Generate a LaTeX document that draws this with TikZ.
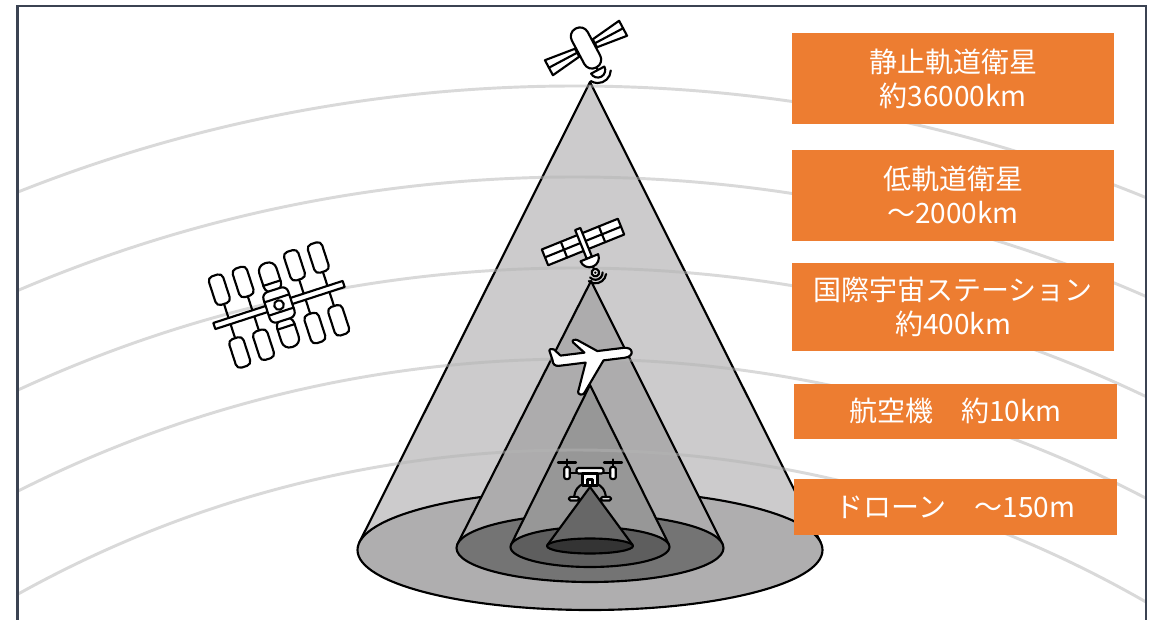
\documentclass[tikz,border=0pt]{standalone}
\usepackage{fontspec}
\newfontfamily\jpfont{Noto Sans CJK JP}
\definecolor{orbitc}{HTML}{B4B4B4}
\definecolor{framec}{HTML}{3B4352}
\definecolor{labc}{HTML}{ED7D31}
\definecolor{coneA}{HTML}{CCCBCC}
\definecolor{ellA}{HTML}{AFAEAF}
\definecolor{coneB}{HTML}{ADACAD}
\definecolor{ellB}{HTML}{747474}
\definecolor{coneC}{HTML}{979797}
\definecolor{ellC}{HTML}{5E5E5E}
\definecolor{coneD}{HTML}{676767}
\definecolor{ellD}{HTML}{343434}
\begin{document}
\begin{tikzpicture}[x=0.75pt,y=-0.75pt,
  orbit/.style={draw=orbitc, line width=2.2pt, opacity=0.5},
  coneline/.style={draw=black, line width=1.6pt, line join=round},
  icon/.style={draw=black, fill=white, line width=1.6pt, line join=round, line cap=round},
  iconline/.style={draw=black, line width=1.6pt, line cap=round, line join=round},
  lbl/.style={fill=labc, text=white, font=\jpfont\fontsize{21}{25.5}\selectfont,
    align=center, inner sep=0pt, minimum width=241.5pt},
  framel/.style={draw=framec, line width=1.9pt}
]
\fill[white] (0,0) rectangle (1160,620);
\useasboundingbox (0,0) rectangle (1160,620);

% coverage cones, outermost first
\draw[coneline, fill=coneA] (590,82) -- (820.6,542.3) -- (359.4,542.3) -- cycle;
\draw[coneline, fill=ellA] (590,550) ellipse [x radius=232.5, y radius=60];
\draw[coneline, fill=coneB] (591,281) -- (722.4,543.7) -- (457.6,543.7) -- cycle;
\draw[coneline, fill=ellB] (590,548) ellipse [x radius=133.5, y radius=34];
\draw[coneline, fill=coneC] (590,385) -- (668.9,544.5) -- (511.1,544.5) -- cycle;
\draw[coneline, fill=ellC] (590,547) ellipse [x radius=79.5, y radius=20];
\draw[coneline, fill=coneD] (590,487) -- (632.6,545) -- (547.4,545) -- cycle;
\draw[coneline, fill=ellD] (590,546) ellipse [x radius=43, y radius=7.5];

% orbit rings
\begin{scope}
  \clip (17.5,6) rectangle (1146,620);
  \foreach \k in {0,...,4}
    \draw[orbit] (575,1597) circle [radius={1511-91*\k}];
\end{scope}

% geostationary satellite
\begin{scope}[shift={(586,48)}, rotate=28]
  \draw[icon] (-10,-4.5) -- (-42,-8.5) -- (-42,8.5) -- (-10,4.5) -- cycle;
  \draw[iconline] (-10,0) -- (-42,0);
  \draw[icon] (10,-4.5) -- (42,-8.5) -- (42,8.5) -- (10,4.5) -- cycle;
  \draw[iconline] (10,0) -- (42,0);
  \draw[icon, rounded corners=6.5pt] (-9,-22) rectangle (9,22);
  \draw[iconline] (0,22) -- (0,25);
  \draw[icon] (-7.5,25) -- (7.5,25) arc [start angle=0, end angle=180, radius=7.5] -- cycle;
  \draw[iconline] (11.3,31.5) arc [start angle=30, end angle=150, radius=13];
\end{scope}

% low orbit satellite
\begin{scope}[shift={(583,242)}, rotate=22]
  \draw[icon] (-41,-8.5) rectangle (41,8.5);
  \draw[iconline] (-41,0) -- (41,0) (-20.5,-8.5) -- (-20.5,8.5) (20.5,-8.5) -- (20.5,8.5);
  \draw[icon] (-2.8,-14) rectangle (2.8,17);
  \draw[icon] (-9.5,17) -- (9.5,17) arc [start angle=0, end angle=180, radius=9.5] -- cycle;
  \draw[iconline] (0,26.5) -- (0,29.5);
  \draw[icon] (0,33) circle [radius=3.7];
  \fill (0,33) circle [radius=1.4];
  \draw[iconline] (6.8,35.5) arc [start angle=20, end angle=160, radius=7.2];
  \draw[iconline] (9.4,38.4) arc [start angle=30, end angle=150, radius=10.8];
\end{scope}

% space station
\begin{scope}[shift={(279,305)}, rotate=18]
  \foreach \px in {-52,-27,27,52} {
    \draw[iconline] (\px,-3) -- (\px,-18);
    \draw[iconline] (\px,3) -- (\px,18);
    \draw[icon, rounded corners=3.5pt] ({\px-7.5},-48) rectangle ({\px+7.5},-18);
    \draw[icon, rounded corners=3.5pt] ({\px-7.5},18) rectangle ({\px+7.5},48);
  }
  \draw[icon] (-68,-3.2) rectangle (68,3.2);
  \draw[icon, rounded corners=6pt] (-9,-44) rectangle (9,-14);
  \draw[iconline] (-9,-23) -- (9,-23);
  \draw[icon, rounded corners=6pt] (-9,14) rectangle (9,44);
  \draw[iconline] (-9,23) -- (9,23);
  \draw[icon, rounded corners=4.5pt] (-13,-16) rectangle (13,16);
  \draw[iconline] (-13,-7) -- (13,-7) (-13,7) -- (13,7);
  \draw[icon] (0,0) circle [radius=4.8];
\end{scope}

% airplane
\begin{scope}[shift={(590,357)}, rotate=7]
  \draw[icon] (42,0) .. controls (42,-3) and (39,-5) .. (34,-5)
    -- (8,-5) -- (-10,-18) .. controls (-12,-19.5) and (-17,-19.5) .. (-15,-16.5)
    -- (-5,-5) -- (-29,-5) -- (-35,-12) .. controls (-36,-13) and (-40,-13) .. (-39.5,-11)
    -- (-37.5,-1) .. controls (-38,2) and (-36,5) .. (-32,5)
    -- (-5,5) -- (-16,33) .. controls (-17,36) and (-12,37.5) .. (-10,35)
    -- (13,5) -- (34,5) .. controls (39,5) and (42,3) .. (42,0) -- cycle;
\end{scope}

% drone
\foreach \s in {-1,1} {
  \draw[iconline] ({590+(\s)*23-9},462.5) -- ({590+(\s)*23+9},462.5);
  \draw[iconline] ({590+(\s)*23},459.5) -- ({590+(\s)*23},467);
  \draw[icon, rounded corners=1.5pt] ({590+(\s)*23-2.8},467) rectangle ({590+(\s)*23+2.8},479);
  \draw[iconline] ({590+(\s)*20.2},473) -- ({590+(\s)*13},473);
  \draw[iconline] ({590+(\s)*7},484) .. controls ({590+(\s)*12},486) and ({590+(\s)*15},490) .. ({590+(\s)*16},497);
  \draw[icon, rounded corners=1pt] ({590+(\s)*11},497) rectangle ({590+(\s)*21},500.5);
}
\draw[icon, rounded corners=1.5pt] (576.5,468) rectangle (603.5,473.5);
\draw[icon] (582.5,473.5) rectangle (597.5,485.5);
\draw[iconline] (587.5,485.5) -- (587.5,479.5) -- (592.5,479.5) -- (592.5,485.5);

% altitude labels
\node[lbl, minimum height=68.2pt] (geo) at (953,78.7) {静止軌道衛星\\約36000km};
\node[lbl, minimum height=68.2pt] (leo) at (953,195.3) {低軌道衛星\\～2000km};
\node[lbl, minimum height=66pt] (iss) at (953,307) {国際宇宙ステーション\\約400km};
\node[lbl, minimum height=41pt, minimum width=242.2pt] (air) at (955.5,411.3) {航空機　約10km};
\node[lbl, minimum height=42pt, minimum width=242.2pt] (drone) at (955.5,507) {ドローン　～150m};

% frame
\draw[framel] (17.5,625) -- (17.5,6) -- (1146,6) -- (1146,625);
\end{tikzpicture}
\end{document}
